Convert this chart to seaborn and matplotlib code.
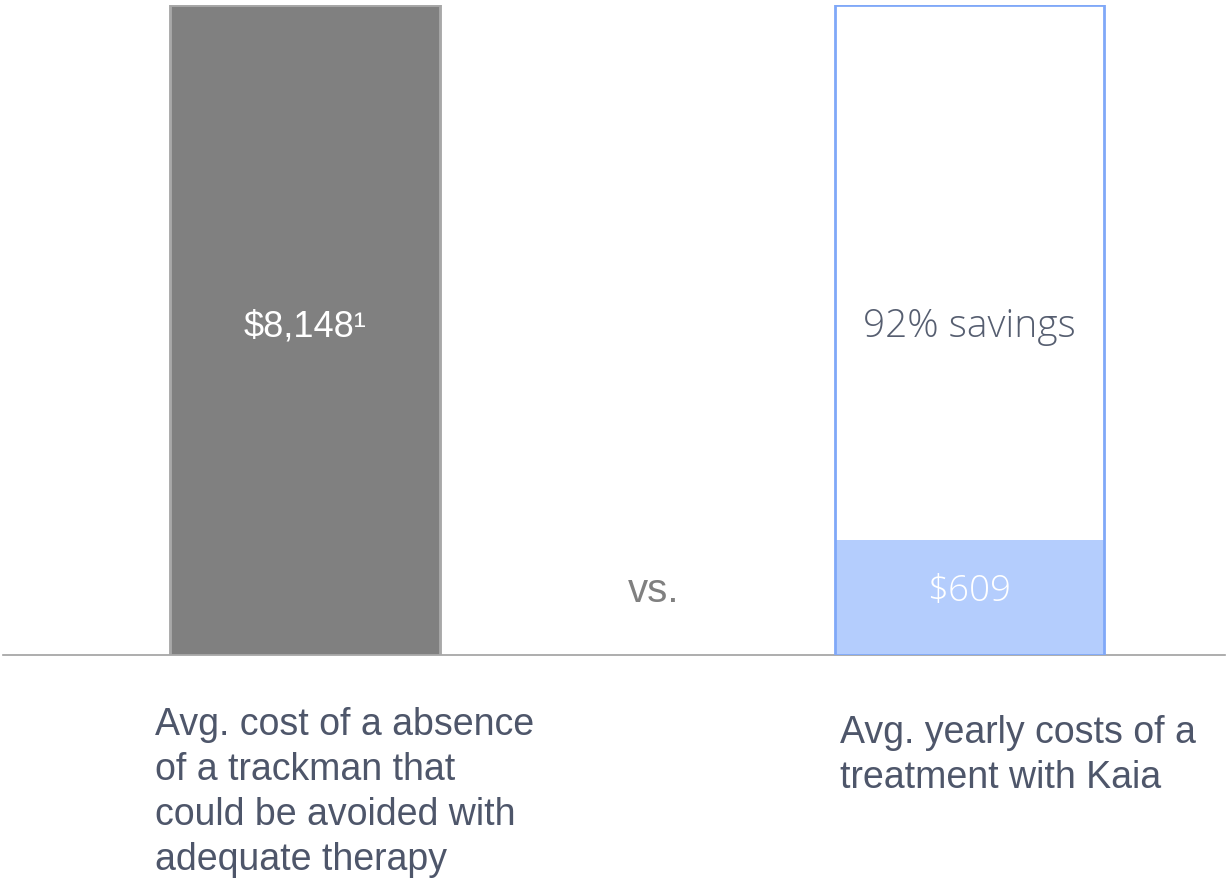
import matplotlib
matplotlib.use("Agg")
import matplotlib.pyplot as plt
import seaborn as sns

# ---- data ----
categories = ["Absence", "Kaia"]
outer_heights = [8148, 8148]      # full bar height (outline)
filled_heights = [8148, 1441]     # shaded portion as drawn in the picture
value_labels = ["$8,148\u00b9", "$609"]
savings_label = "92% savings"
bottom_labels = [
    "Avg. cost of a absence\nof a trackman that\ncould be avoided with\nadequate therapy",
    "Avg. yearly costs of a\ntreatment with Kaia",
]

sns.set_theme(style="white")
plt.rcParams["font.family"] = ["Liberation Sans", "DejaVu Sans"]

W, H = 1230, 880
fig = plt.figure(figsize=(W / 100, H / 100), dpi=100)
ax = fig.add_axes([3 / W, 225 / H, 1222 / W, 650 / H])

gray = "#808080"
gray_edge = "#a8a8a8"
blue_edge = "#80a8f8"
blue_fill = "#b4cdfd"
text_col = "#4e566a"
thin_font = ["Open Sans", "DejaVu Sans"]

# shaded parts
sns.barplot(x=categories, y=filled_heights, hue=categories,
            palette=[gray, blue_fill], width=0.406, legend=False,
            ax=ax, linewidth=0, saturation=1)
# outlines
sns.barplot(x=categories, y=outer_heights, hue=categories,
            palette=[gray, "white"], width=0.406, legend=False,
            ax=ax, saturation=1)

patches = ax.patches
patches[0].set_edgecolor(gray_edge)
patches[0].set_linewidth(1.8)
patches[1].set_linewidth(0)
patches[2].set_facecolor("none")
patches[2].set_edgecolor(gray_edge)
patches[2].set_linewidth(1.8)
patches[3].set_facecolor("none")
patches[3].set_edgecolor(blue_edge)
patches[3].set_linewidth(2.0)
for p in patches:
    p.set_zorder(3)

ax.set_xlim(-0.4545, 1.3845)
ax.set_ylim(0, 8148)
ax.set_xticks([])
ax.set_yticks([])
ax.set_xlabel("")
ax.set_ylabel("")
for s in ["top", "left", "right"]:
    ax.spines[s].set_visible(False)
ax.spines["bottom"].set_color("#a0a0a0")
ax.spines["bottom"].set_linewidth(1.2)
ax.spines["bottom"].set_zorder(2)
ax.set_facecolor("white")

# value labels
ax.text(0, 4110, value_labels[0], ha="center", va="center",
        color="white", fontsize=26)
ax.text(1, 4110, savings_label, ha="center", va="center",
        color="#565e70", fontsize=28, family=thin_font, fontweight="light")
ax.text(1, 790, value_labels[1], ha="center", va="center",
        color="white", fontsize=26.5, family=thin_font, fontweight="light")
ax.text(0.525, 800, "vs.", ha="center", va="center", color="#808080", fontsize=29)

# bottom labels
fig.text(155 / W, 1 - 707 / H, bottom_labels[0], ha="left", va="top",
         color=text_col, fontsize=27, linespacing=1.32)
fig.text(840 / W, 1 - 715 / H, bottom_labels[1], ha="left", va="top",
         color=text_col, fontsize=27, linespacing=1.32)

fig.savefig("out.png", dpi=100, facecolor="white")
